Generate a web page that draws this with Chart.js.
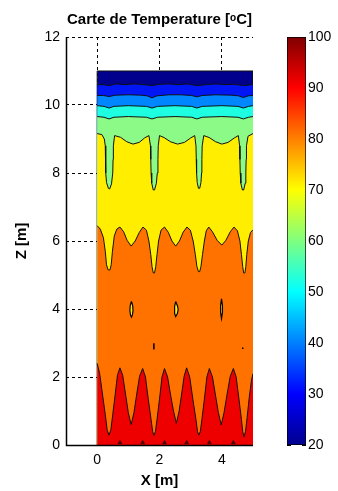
<!DOCTYPE html>
<html>
<head>
<meta charset="utf-8">
<script src="https://cdn.jsdelivr.net/npm/chart.js@4.4.1/dist/chart.umd.min.js"></script>
<style>
  body { margin: 0; background: #fff; }
  #main { position: absolute; left: 0; top: 0; }
  #bar { position: absolute; left: 270px; top: 0; }
</style>
</head>
<body>
<canvas id="main" width="270" height="491"></canvas>
<canvas id="bar" width="68" height="491"></canvas>
<script>
// axis ticks
const xTicks = [0, 2, 4];
const zTicks = [0, 2, 4, 6, 8, 10, 12];
const colorbarTicks = [20, 30, 40, 50, 60, 70, 80, 90, 100];
const colorbarRange = [20, 100];

// computed domain (x in m, z in m)
const domainX = [0, 0, 5, 5];
const domainZ = [0, 11, 11, 0];

// isotherms, from top to bottom
const iso30X = [0, 0.2, 0.38, 0.6, 0.9, 1.2, 1.5, 1.76, 2.0, 2.3, 2.6, 2.9, 3.2, 3.5, 3.8, 4.1, 4.4, 4.69, 5];
const iso30Z = [10.6, 10.6, 10.57, 10.62, 10.6, 10.62, 10.6, 10.57, 10.61, 10.62, 10.6, 10.62, 10.57, 10.6, 10.62, 10.6, 10.61, 10.57, 10.6];

const iso40X = [0, 0.2, 0.38, 0.6, 1.0, 1.4, 1.6, 1.76, 1.92, 2.3, 2.7, 3.03, 3.2, 3.37, 3.8, 4.3, 4.53, 4.69, 4.85, 5];
const iso40Z = [10.28, 10.28, 10.25, 10.29, 10.3, 10.29, 10.27, 10.21, 10.27, 10.3, 10.3, 10.28, 10.24, 10.28, 10.3, 10.29, 10.27, 10.22, 10.27, 10.28];

const iso50X = [0, 0.22, 0.38, 0.54, 1.0, 1.58, 1.76, 1.94, 2.5, 3.03, 3.2, 3.37, 4.0, 4.52, 4.69, 4.86, 5];
const iso50Z = [9.98, 9.96, 9.91, 9.96, 9.98, 9.96, 9.91, 9.96, 9.98, 9.96, 9.91, 9.96, 9.98, 9.96, 9.91, 9.96, 9.98];

const iso60X = [0, 0.22, 0.38, 0.54, 1.0, 1.58, 1.76, 1.94, 2.5, 3.03, 3.2, 3.37, 4.0, 4.52, 4.69, 4.86, 5];
const iso60Z = [9.66, 9.64, 9.59, 9.64, 9.66, 9.64, 9.59, 9.64, 9.66, 9.64, 9.59, 9.64, 9.66, 9.64, 9.59, 9.64, 9.66];

const iso70X = [
  0, 0.15, 0.23, 0.26, 0.27, 0.28, 0.30, 0.36, 0.40, 0.46, 0.50, 0.51, 0.52, 0.56,
  0.75, 0.95, 1.15, 1.35, 1.52, 1.66,
  1.71, 1.72, 1.73, 1.75, 1.80, 1.84, 1.90, 1.93, 1.95, 1.96, 2.00,
  2.15, 2.35, 2.58, 2.80, 3.00, 3.13,
  3.17, 3.18, 3.19, 3.21, 3.25, 3.29, 3.33, 3.35, 3.36, 3.37, 3.42,
  3.60, 3.80, 4.00, 4.20, 4.40, 4.53,
  4.57, 4.58, 4.59, 4.61, 4.66, 4.70, 4.75, 4.77, 4.78, 4.79, 4.84, 5
];
const iso70Z = [
  9.16, 9.13, 9.00, 8.80, 8.40, 8.00, 7.72, 7.55, 7.53, 7.68, 8.00, 8.40, 8.80, 9.10,
  9.05, 8.92, 8.85, 8.90, 9.03, 9.10,
  8.80, 8.40, 8.00, 7.70, 7.50, 7.50, 7.70, 8.00, 8.40, 8.80, 9.10,
  9.04, 8.92, 8.85, 8.90, 9.03, 9.10,
  8.80, 8.40, 8.00, 7.72, 7.55, 7.55, 7.72, 8.00, 8.40, 8.80, 9.10,
  9.04, 8.92, 8.85, 8.90, 9.03, 9.10,
  8.80, 8.40, 8.00, 7.70, 7.50, 7.50, 7.70, 8.00, 8.40, 8.80, 9.08, 9.16
];

const iso80X = [
  0, 0.10, 0.20, 0.26, 0.30, 0.35, 0.41, 0.45, 0.49, 0.55, 0.63, 0.73,
  0.85, 0.96, 1.09, 1.22, 1.35, 1.47,
  1.58, 1.66, 1.72, 1.76, 1.80, 1.84, 1.88, 1.92, 1.97, 2.05, 2.16,
  2.28, 2.40, 2.52, 2.64, 2.76, 2.88,
  2.99, 3.08, 3.15, 3.20, 3.25, 3.29, 3.33, 3.38, 3.44, 3.50, 3.58,
  3.70, 3.85, 4.00, 4.13, 4.27, 4.39,
  4.50, 4.58, 4.63, 4.67, 4.70, 4.74, 4.77, 4.80, 4.85, 4.92, 5
];
const iso80Z = [
  6.45, 6.35, 6.10, 5.70, 5.30, 5.15, 5.15, 5.30, 5.70, 6.15, 6.35, 6.41,
  6.27, 6.02, 5.85, 6.00, 6.25, 6.41,
  6.32, 6.00, 5.60, 5.25, 5.06, 5.06, 5.25, 5.60, 6.00, 6.32, 6.41,
  6.26, 6.00, 5.85, 6.00, 6.26, 6.41,
  6.32, 6.00, 5.60, 5.25, 5.10, 5.10, 5.25, 5.60, 6.00, 6.30, 6.41,
  6.27, 6.02, 5.88, 6.02, 6.27, 6.41,
  6.30, 6.00, 5.60, 5.25, 5.06, 5.06, 5.25, 5.60, 6.00, 6.25, 6.33
];

const iso90X = [
  0, 0.08, 0.17, 0.26, 0.32, 0.38,
  0.44, 0.50, 0.58, 0.65, 0.73,
  0.82, 0.91, 1.00, 1.09,
  1.18, 1.27, 1.36, 1.46,
  1.55, 1.64, 1.73, 1.78, 1.82,
  1.87, 1.92, 2.00, 2.08, 2.16,
  2.26, 2.35, 2.45, 2.54,
  2.63, 2.71, 2.79, 2.87,
  2.97, 3.07, 3.17, 3.22, 3.26,
  3.31, 3.36, 3.44, 3.52, 3.60,
  3.70, 3.79, 3.89, 3.98,
  4.07, 4.17, 4.27, 4.37,
  4.46, 4.55, 4.63, 4.67, 4.71,
  4.76, 4.81, 4.88, 4.95, 5
];
const iso90Z = [
  2.40, 2.10, 1.50, 0.90, 0.45, 0.29,
  0.45, 0.90, 1.50, 2.05, 2.27,
  2.05, 1.50, 0.95, 0.60,
  0.95, 1.50, 2.02, 2.25,
  2.00, 1.35, 0.75, 0.40, 0.28,
  0.40, 0.75, 1.35, 2.00, 2.25,
  2.00, 1.50, 1.00, 0.64,
  1.00, 1.50, 2.02, 2.27,
  2.00, 1.35, 0.75, 0.40, 0.29,
  0.40, 0.75, 1.35, 2.00, 2.25,
  2.00, 1.50, 0.95, 0.59,
  0.95, 1.50, 2.02, 2.25,
  2.00, 1.35, 0.75, 0.40, 0.24,
  0.40, 0.80, 1.40, 1.90, 2.10
];

// small cooler islands around z = 4 m
const island1X = [1.10, 1.14, 1.15, 1.13, 1.10, 1.07, 1.05, 1.06, 1.10];
const island1Z = [4.22, 4.10, 3.95, 3.82, 3.76, 3.82, 3.95, 4.10, 4.22];
const island2X = [2.52, 2.58, 2.60, 2.57, 2.52, 2.49, 2.48, 2.49, 2.52];
const island2Z = [4.22, 4.08, 3.98, 3.86, 3.78, 3.86, 3.98, 4.08, 4.22];
const island3X = [3.99, 4.02, 4.02, 3.99, 3.96, 3.96, 3.99];
const island3Z = [4.30, 4.10, 3.90, 3.72, 3.90, 4.10, 4.30];
const speck1X = [1.82, 1.82];
const speck1Z = [2.99, 2.81];
const speck2X = [4.67, 4.67];
const speck2Z = [2.87, 2.82];
// hot spots along the bottom
const bottomSpotX = [0.73, 1.46, 2.16, 2.87, 3.60, 4.37];
const bottomSpotZ = [0.07, 0.07, 0.07, 0.07, 0.07, 0.07];

Chart.defaults.font.family = "'Liberation Sans', Arial, sans-serif";
Chart.defaults.color = '#000';

const pts = (xs, zs) => xs.map((x, i) => ({x: x, y: zs[i]}));

function band(xs, zs, color) {
  return {
    data: pts(xs, zs), backgroundColor: color, borderColor: '#111', borderWidth: 1,
    fill: 'start', pointRadius: 0, pointHitRadius: 0, tension: 0
  };
}
function island(xs, zs) {
  return {
    data: pts(xs, zs), backgroundColor: '#ffee00', borderColor: '#000', borderWidth: 1.2,
    fill: 'shape', pointRadius: 0, tension: 0
  };
}
function speck(xs, zs) {
  return {data: pts(xs, zs), borderColor: '#000', borderWidth: 1.5, fill: false, pointRadius: 0};
}

const datasets = [
  band(domainX, domainZ, '#00008c'),
  band(iso30X, iso30Z, '#0016f4'),
  band(iso40X, iso40Z, '#0086ff'),
  band(iso50X, iso50Z, '#1effe2'),
  band(iso60X, iso60Z, '#8cfa86'),
  band(iso70X, iso70Z, '#ffee00'),
  band(iso80X, iso80Z, '#ff7200'),
  band(iso90X, iso90Z, '#ee0000'),
  island(island1X, island1Z),
  island(island2X, island2Z),
  island(island3X, island3Z),
  speck(speck1X, speck1Z),
  speck(speck2X, speck2Z),
  {
    data: pts(bottomSpotX, bottomSpotZ), showLine: false, fill: false,
    pointStyle: 'triangle', pointRadius: 2.2, pointBackgroundColor: '#600000',
    pointBorderColor: '#000', pointBorderWidth: 0.5
  }
];
// first entry painted first, later ones on top
datasets.forEach((d, i) => { d.order = datasets.length - i; });

// solid left and bottom axis lines drawn over the fills
const axisLines = {
  id: 'axisLines',
  afterDatasetsDraw(chart) {
    const {ctx, chartArea: a} = chart;
    ctx.save();
    ctx.strokeStyle = '#000';
    ctx.lineWidth = 1.5;
    ctx.beginPath();
    ctx.moveTo(a.left + 0.5, a.top);
    ctx.lineTo(a.left + 0.5, a.bottom + 0.5);
    ctx.lineTo(a.right, a.bottom + 0.5);
    ctx.stroke();
    ctx.restore();
  }
};

new Chart(document.getElementById('main'), {
  type: 'line',
  data: {datasets: datasets},
  plugins: [axisLines],
  options: {
    animation: false,
    responsive: false,
    layout: {padding: {left: 0, right: 17, top: 0, bottom: 0}},
    plugins: {
      legend: {display: false},
      tooltip: {enabled: false},
      title: {
        display: true, text: 'Carte de Temperature [ᵒC]', fullSize: false,
        font: {size: 15, weight: 'bold'}, color: '#000',
        padding: {top: 10.5, bottom: 8.5}
      }
    },
    scales: {
      x: {
        type: 'linear', min: -1, max: 5,
        afterBuildTicks: s => { s.ticks = xTicks.map(v => ({value: v})); },
        afterFit: s => { s.height = 46; },
        grid: {color: '#000', lineWidth: 1, drawTicks: false},
        border: {display: false, dash: [3, 3]},
        ticks: {padding: 7, color: '#000', font: {size: 14}},
        title: {display: true, text: 'X [m]', color: '#000', font: {size: 15, weight: 'bold'}, padding: {top: 0, bottom: 1.5}}
      },
      y: {
        type: 'linear', min: 0, max: 12,
        afterBuildTicks: s => { s.ticks = zTicks.map(v => ({value: v})); },
        afterFit: s => { s.width = 66; },
        grid: {color: '#000', lineWidth: 1, drawTicks: false},
        border: {display: false, dash: [3, 3]},
        ticks: {padding: 6, color: '#000', font: {size: 14}},
        title: {display: true, text: 'Z [m]', color: '#000', font: {size: 15, weight: 'bold'}, padding: {top: 13, bottom: 0}}
      }
    }
  }
});

// colour bar
function jetGradient(ctx) {
  const chart = ctx.chart;
  const a = chart.chartArea;
  if (!a) return '#000';
  const g = chart.ctx.createLinearGradient(0, a.bottom, 0, a.top);
  g.addColorStop(0, '#00008f');
  g.addColorStop(0.125, '#0000ff');
  g.addColorStop(0.375, '#00ffff');
  g.addColorStop(0.625, '#ffff00');
  g.addColorStop(0.875, '#ff0000');
  g.addColorStop(1, '#800000');
  return g;
}

new Chart(document.getElementById('bar'), {
  type: 'bar',
  data: {
    labels: [''],
    datasets: [{
      data: [colorbarRange], backgroundColor: jetGradient,
      borderColor: '#000', borderWidth: 1, borderSkipped: false,
      barPercentage: 1, categoryPercentage: 1
    }]
  },
  options: {
    animation: false,
    responsive: false,
    layout: {padding: {left: 17, top: 37, bottom: 46, right: 0}},
    plugins: {legend: {display: false}, tooltip: {enabled: false}},
    scales: {
      x: {display: false},
      y: {
        position: 'right', min: 20, max: 100, z: 1,
        afterBuildTicks: s => { s.ticks = colorbarTicks.map(v => ({value: v})); },
        afterFit: s => { s.width = 32; },
        grid: {color: '#000', lineWidth: 1, drawTicks: false},
        border: {display: false, dash: [4, 11]},
        ticks: {padding: 2, color: '#000', font: {size: 14}}
      }
    }
  }
});
</script>
</body>
</html>
